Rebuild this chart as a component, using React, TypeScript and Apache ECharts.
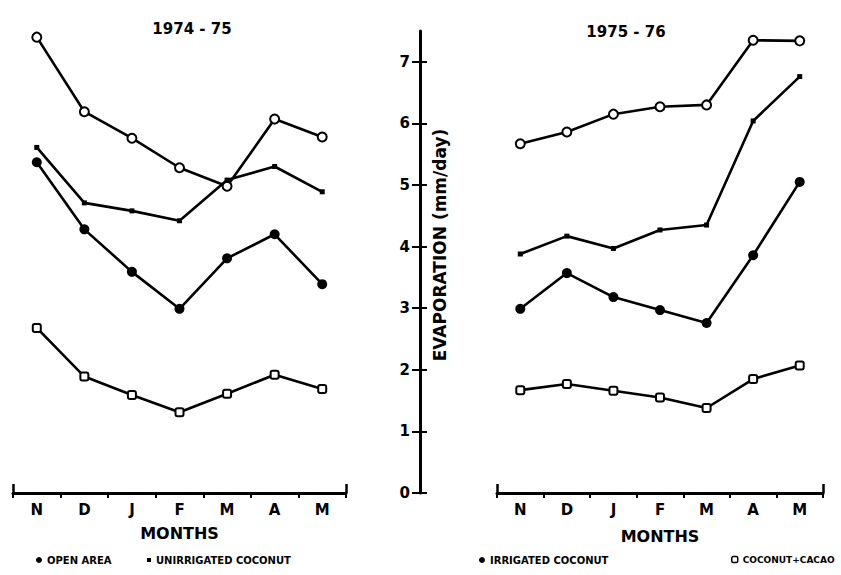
import React, { useEffect, useRef } from "react";
import * as echarts from "echarts";

const months = ["N", "D", "J", "F", "M", "A", "M"];
const yTicks = [0, 1, 2, 3, 4, 5, 6, 7];
const seriesNames = ["OPEN AREA", "UNIRRIGATED COCONUT", "IRRIGATED COCONUT", "COCONUT+CACAO"];

// 1974-75
const openArea7475 = [7.4, 6.19, 5.76, 5.28, 4.98, 6.07, 5.78];
const unirrigated7475 = [5.61, 4.71, 4.58, 4.42, 5.08, 5.3, 4.89];
const irrigated7475 = [5.37, 4.28, 3.59, 2.99, 3.81, 4.2, 3.39];
const cacao7475 = [2.68, 1.89, 1.59, 1.31, 1.61, 1.92, 1.69];

// 1975-76
const openArea7576 = [5.67, 5.86, 6.15, 6.27, 6.3, 7.35, 7.34];
const unirrigated7576 = [3.88, 4.17, 3.97, 4.27, 4.35, 6.04, 6.76];
const irrigated7576 = [2.99, 3.57, 3.18, 2.97, 2.76, 3.86, 5.05];
const cacao7576 = [1.67, 1.77, 1.66, 1.55, 1.38, 1.85, 2.07];

const FONT = "DejaVu Sans";

const styles: any[] = [
  { symbol: "circle", symbolSize: 9, itemStyle: { color: "#fff", borderColor: "#000", borderWidth: 2 } },
  { symbol: "rect", symbolSize: 5, itemStyle: { color: "#000", borderWidth: 0 } },
  { symbol: "circle", symbolSize: 10, itemStyle: { color: "#000", borderWidth: 0 } },
  { symbol: "roundRect", symbolSize: 8, itemStyle: { color: "#fff", borderColor: "#000", borderWidth: 2 } },
];

export default function App() {
  const ref = useRef<HTMLDivElement>(null);
  useEffect(() => {
    if (!ref.current) return;
    const chart = echarts.init(ref.current, null, { renderer: "svg" });
    const data = [
      [openArea7475, unirrigated7475, irrigated7475, cacao7475],
      [openArea7576, unirrigated7576, irrigated7576, cacao7576],
    ];
    const series: any[] = [];
    data.forEach((panel, g) => {
      panel.forEach((vals, i) => {
        series.push({
          type: "line",
          name: seriesNames[i],
          xAxisIndex: g,
          yAxisIndex: g,
          data: vals,
          symbol: styles[i].symbol,
          symbolSize: styles[i].symbolSize,
          itemStyle: styles[i].itemStyle,
          lineStyle: { color: "#000", width: 2.6 },
          showSymbol: true,
        });
      });
    });
    const catAxis = (g: number, gap: number) => ({
      type: "category",
      gridIndex: g,
      data: months,
      boundaryGap: true,
      axisLine: { onZero: false, lineStyle: { color: "#000", width: 3 } },
      axisTick: { show: true, length: 5, lineStyle: { color: "#000", width: 2 } },
      axisLabel: { color: "#000", fontFamily: FONT, fontWeight: "bold", fontSize: 15, margin: 9 },
      name: "MONTHS",
      nameLocation: "middle",
      nameGap: gap,
      nameTextStyle: { color: "#000", fontFamily: FONT, fontWeight: "bold", fontSize: 16 },
      splitLine: { show: false },
    });
    const endTicks = (g: number) => ({
      type: "value",
      gridIndex: g,
      position: "bottom",
      min: 0,
      max: 1,
      interval: 1,
      axisLine: { show: false, onZero: false },
      axisTick: { show: true, inside: true, length: 9, lineStyle: { color: "#000", width: 2.5 } },
      axisLabel: { show: false },
      splitLine: { show: false },
    });
    const legendItem = (i: number, left: number, fontSize: number) => ({
      data: [
        {
          name: seriesNames[i],
          icon: i === 1 ? "rect" : i === 3 ? "roundRect" : "circle",
          itemStyle:
            i === 3
              ? { color: "#fff", borderColor: "#000", borderWidth: 1.5 }
              : { color: "#000", borderWidth: 0 },
        },
      ],
      left,
      top: 550,
      itemWidth: i === 1 ? 4 : 6,
      itemHeight: i === 1 ? 4 : 6,
      itemGap: 0,
      textStyle: { color: "#000", fontFamily: FONT, fontWeight: "bold", fontSize },
      selectedMode: false,
    });
    chart.setOption({
      animation: false,
      backgroundColor: "#fff",
      title: [
        {
          text: "1974 - 75",
          left: 187,
          top: 16,
          textAlign: "center",
          textStyle: { color: "#000", fontFamily: FONT, fontWeight: "bold", fontSize: 15 },
        },
        {
          text: "1975 - 76",
          left: 621,
          top: 19,
          textAlign: "center",
          textStyle: { color: "#000", fontFamily: FONT, fontWeight: "bold", fontSize: 15 },
        },
      ],
      legend: [
        legendItem(0, 31, 10),
        legendItem(1, 142, 10),
        legendItem(2, 474, 10),
        legendItem(3, 726, 9),
      ],
      grid: [
        { left: 13, right: 495, top: 31, bottom: 82 },
        { left: 497, right: 18, top: 31, bottom: 82 },
      ],
      xAxis: [catAxis(0, 32), catAxis(1, 35), endTicks(0), endTicks(1)],
      yAxis: [
        {
          type: "value",
          gridIndex: 0,
          min: 0,
          max: 7.5,
          position: "right",
          offset: 74,
          axisLine: { show: false, onZero: false },
          axisTick: { show: true, length: 7, customValues: yTicks, lineStyle: { color: "#000", width: 2 } },
          axisLabel: { show: false },
          splitLine: { show: false },
        },
        {
          type: "value",
          gridIndex: 1,
          min: 0,
          max: 7.5,
          position: "left",
          offset: 77,
          axisLine: { show: true, onZero: false, lineStyle: { color: "#000", width: 3 } },
          axisTick: { show: true, length: 8, customValues: yTicks, lineStyle: { color: "#000", width: 2 } },
          axisLabel: {
            customValues: yTicks,
            color: "#000",
            fontFamily: FONT,
            fontWeight: "bold",
            fontSize: 15,
            margin: 10,
          },
          splitLine: { show: false },
        },
      ],
      graphic: [
        {
          type: "text",
          x: 440,
          y: 245,
          rotation: Math.PI / 2,
          style: {
            text: "EVAPORATION (mm/day)",
            fill: "#000",
            font: `bold 17px "${FONT}"`,
            textAlign: "center",
            textVerticalAlign: "middle",
          },
        },
      ],
      series,
    });
    return () => chart.dispose();
  }, []);
  return (
    <div
      ref={ref}
      style={{ position: "fixed", left: 0, top: 0, width: 841, height: 575, background: "#fff" }}
    />
  );
}
